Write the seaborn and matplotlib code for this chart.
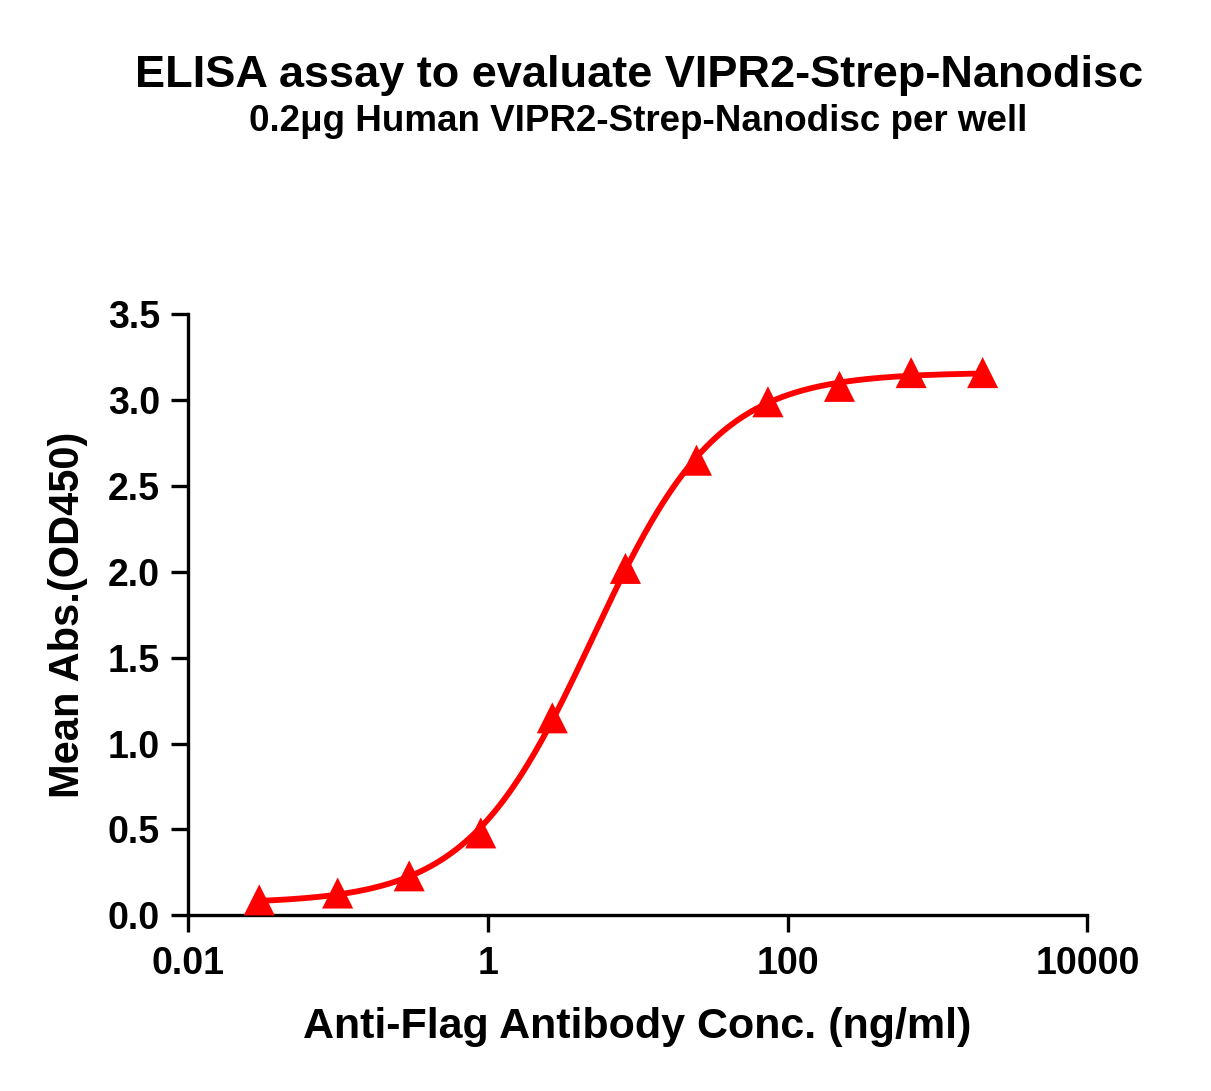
import numpy as np
import pandas as pd
import matplotlib
matplotlib.use("Agg")
import matplotlib.pyplot as plt
import seaborn as sns

# values
conc = [0.03, 0.1, 0.3, 0.9, 2.7, 8.3, 24.7, 74, 222, 667, 2000]
absorb = [0.09, 0.13, 0.23, 0.48, 1.15, 2.02, 2.65, 2.99, 3.08, 3.16, 3.16]
x_ticks = [0.01, 1, 100, 10000]
x_tick_labels = ["0.01", "1", "100", "10000"]
y_ticks = [0.0, 0.5, 1.0, 1.5, 2.0, 2.5, 3.0, 3.5]

df = pd.DataFrame({"conc": conc, "od": absorb})

# 4PL fit: grid over EC50 / hill, bottom & top by least squares
xs = np.array(conc)
ys = np.array(absorb)
best = None
for lec in np.linspace(-1, 2, 301):
    for h in np.linspace(0.5, 2.5, 201):
        s = 1.0 / (1.0 + (10 ** lec / xs) ** h)
        A = np.column_stack([1 - s, s])
        coef, res, _, _ = np.linalg.lstsq(A, ys, rcond=None)
        err = np.sum((A @ coef - ys) ** 2)
        if best is None or err < best[0]:
            best = (err, lec, h, coef)
_, lec, h, (bottom, top) = best
xfit = np.logspace(np.log10(xs.min()), np.log10(xs.max()), 300)
sfit = 1.0 / (1.0 + (10 ** lec / xfit) ** h)
fit = pd.DataFrame({"conc": xfit, "od": bottom + (top - bottom) * sfit})

sns.set_style("ticks")
plt.rcParams["font.family"] = ["Liberation Sans", "DejaVu Sans"]
plt.rcParams["font.weight"] = "bold"
plt.rcParams["text.color"] = "black"
plt.rcParams["axes.labelcolor"] = "black"
plt.rcParams["xtick.color"] = "black"
plt.rcParams["ytick.color"] = "black"

fig = plt.figure(figsize=(12.11, 10.91), dpi=100)
ax = fig.add_axes([0.155, 0.161, 0.743, 0.551])

sns.lineplot(data=fit, x="conc", y="od", color="#ff0000", linewidth=4.2, ax=ax)
sns.scatterplot(data=df, x="conc", y="od", marker="^", color="#ff0000", s=500,
                edgecolor="none", ax=ax, zorder=5, clip_on=False)

ax.set_xscale("log")
ax.set_xlim(0.01, 10000)
ax.set_ylim(0, 3.5)
ax.set_xticks(x_ticks)
ax.set_xticklabels(x_tick_labels)
ax.minorticks_off()
ax.set_yticks(y_ticks)
ax.set_yticklabels([f"{v:.1f}" for v in y_ticks])
ax.tick_params(axis="both", length=12, width=2.4, labelsize=27, color="black",
               labelcolor="black")
ax.tick_params(axis="x", pad=10)
ax.tick_params(axis="y", pad=8)
for lab in ax.get_xticklabels() + ax.get_yticklabels():
    lab.set_fontweight("bold")
sns.despine(ax=ax)
for sp in ["left", "bottom"]:
    ax.spines[sp].set_linewidth(2.4)
    ax.spines[sp].set_color("black")

ax.set_xlabel("Anti-Flag Antibody Conc. (ng/ml)", fontsize=31, fontweight="bold",
              labelpad=18, color="black")
ax.set_ylabel("Mean Abs.(OD450)", fontsize=30, fontweight="bold", labelpad=14,
              color="black")

fig.text(0.528, 0.92, "ELISA assay to evaluate VIPR2-Strep-Nanodisc",
         ha="center", va="baseline", fontsize=32.5, fontweight="bold", color="black")
fig.text(0.527, 0.88, "0.2μg Human VIPR2-Strep-Nanodisc per well",
         ha="center", va="baseline", fontsize=26.5, fontweight="bold", color="black")

fig.savefig("out.png", dpi=100)
